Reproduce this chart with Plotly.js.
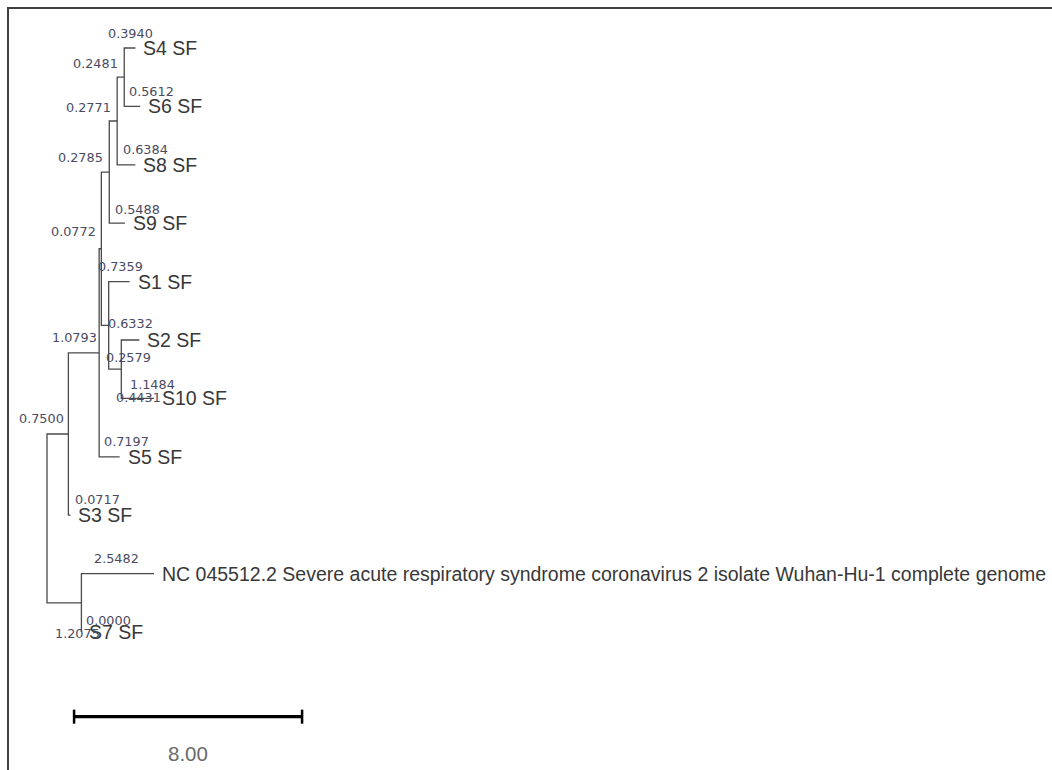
<!DOCTYPE html>
<html>
<head>
<meta charset="utf-8">
<script src="https://cdn.plot.ly/plotly-3.0.1.min.js"></script>
<style>
  html, body { margin: 0; padding: 0; background: #ffffff; }
  #chart { width: 1052px; height: 770px; }
</style>
</head>
<body>
<div id="chart"></div>
<script>
// ---------------- DATA ----------------
// Tree topology: node ids, their parents and branch lengths
const nodeIds = ["root","E","D","C","A","A1","A2","S4","S6","S8","S9","B","S1","B2","S2","S10","S5","S3","F","NC","S7"];
const parentIds = [null,"root","E","D","C","A","A1","A2","A2","A1","A","C","B","B","B2","B2","D","E","root","F","F"];
const branchLengths = [0,0.7500,1.0793,0.0772,0.2785,0.2771,0.2481,0.3940,0.5612,0.6384,0.5488,0.2579,0.7359,0.4431,0.6332,1.1484,0.7197,0.0717,1.2075,2.5482,0.0000];

// Leaves in drawing order (top to bottom) and their labels
const tipOrder = ["S4","S6","S8","S9","S1","S2","S10","S5","S3","NC","S7"];
const tipNames = ["S4 SF","S6 SF","S8 SF","S9 SF","S1 SF","S2 SF","S10 SF","S5 SF","S3 SF",
  "NC 045512.2 Severe acute respiratory syndrome coronavirus 2 isolate Wuhan-Hu-1 complete genome","S7 SF"];

// Scale bar
const scaleLength = 8.00;
const scaleLabel = "8.00";

// ---------------- STYLE / PLACEMENT ----------------
const W = 1052, H = 770;
const PX_PER_UNIT = 28.5;     // horizontal scale
const ROOT_PX = 47;           // root position (px)
const TIP_SPACING = 58.4;     // px between leaves
const FIRST_TIP_PX = 48;
const SCALE_START = 0.95;     // data units
const SCALE_Y = 11.45;        // leaf-index units

// label offsets (px) for branch length labels: [dx from branch start, dy from branch]
const labelOffsets = {
  E:[-30,-15], D:[-18,-15], C:[-50,-17], A:[-45,-15], A1:[-45,-14], A2:[-46,-14],
  S4:[-18,-15], S6:[3,-15], S8:[4,-15], S9:[4,-14], B:[3,32], S1:[-13,-15],
  B2:[5,28], S2:[-15,-17], S10:[7,-14], S5:[3,-15], S3:[5,-16], F:[6,31],
  NC:[11,-15], S7:[3,-12]
};

// ---------------- LAYOUT COMPUTATION ----------------
const nodes = {};
nodeIds.forEach((id, i) => { nodes[id] = {id, parent: parentIds[i], len: branchLengths[i], children: []}; });
nodeIds.forEach(id => { const p = nodes[id].parent; if (p) nodes[p].children.push(id); });

function setX(id, x) {
  const n = nodes[id]; n.x = x;
  n.children.forEach(c => setX(c, x + nodes[c].len));
}
setX("root", 0);
function setY(id) {
  const n = nodes[id];
  if (n.children.length === 0) { n.y = tipOrder.indexOf(id); return n.y; }
  const ys = n.children.map(setY);
  n.y = (ys[0] + ys[ys.length - 1]) / 2;
  return n.y;
}
setY("root");

// tree lines
const lx = [], ly = [];
nodeIds.forEach(id => {
  const n = nodes[id];
  if (n.children.length === 0) return;
  const a = nodes[n.children[0]], b = nodes[n.children[n.children.length - 1]];
  lx.push(a.x, n.x, n.x, b.x, null);
  ly.push(a.y, a.y, b.y, b.y, null);
});

const traces = [
  { x: lx, y: ly, mode: "lines", type: "scatter", hoverinfo: "skip",
    line: { color: "#4a4a4a", width: 1.3 } },
  // scale bar
  { x: [SCALE_START, SCALE_START + scaleLength], y: [SCALE_Y, SCALE_Y], mode: "lines", type: "scatter",
    hoverinfo: "skip", line: { color: "#000000", width: 3.2 } },
  { x: [SCALE_START, SCALE_START, null, SCALE_START + scaleLength, SCALE_START + scaleLength],
    y: [SCALE_Y - 0.12, SCALE_Y + 0.12, null, SCALE_Y - 0.12, SCALE_Y + 0.12],
    mode: "lines", type: "scatter", hoverinfo: "skip", line: { color: "#000000", width: 2.5 } }
];

const annotations = [];
tipOrder.forEach((id, i) => {
  const n = nodes[id];
  annotations.push({ x: n.x, y: n.y, xref: "x", yref: "y", text: tipNames[i], showarrow: false,
    xanchor: "left", yanchor: "middle", xshift: 6,
    font: { family: "Liberation Sans, Arial, sans-serif", size: 19.5, color: "#383838" } });
});
nodeIds.forEach((id, i) => {
  if (!parentIds[i]) return;
  const n = nodes[id], p = nodes[parentIds[i]];
  const off = labelOffsets[id];
  annotations.push({ x: p.x, y: n.y, xref: "x", yref: "y", text: branchLengths[i].toFixed(4), showarrow: false,
    xanchor: "left", yanchor: "middle", xshift: off[0], yshift: -off[1],
    font: { family: "DejaVu Sans, Verdana, sans-serif", size: 12.8, color: "#4a4a62" } });
});
annotations.push({ x: SCALE_START + scaleLength / 2, y: SCALE_Y, xref: "x", yref: "y", text: scaleLabel,
  showarrow: false, xanchor: "center", yanchor: "middle", yshift: -37,
  font: { family: "Liberation Sans, Arial, sans-serif", size: 20.5, color: "#6a6a6a" } });

const layout = {
  width: W, height: H,
  margin: { l: 0, r: 0, t: 0, b: 0, pad: 0 },
  paper_bgcolor: "#ffffff", plot_bgcolor: "#ffffff",
  showlegend: false,
  xaxis: { range: [-ROOT_PX / PX_PER_UNIT, (W - ROOT_PX) / PX_PER_UNIT], visible: false, fixedrange: true },
  yaxis: { range: [(H - FIRST_TIP_PX) / TIP_SPACING, -FIRST_TIP_PX / TIP_SPACING], visible: false, fixedrange: true },
  annotations: annotations,
  shapes: [
    { type: "line", xref: "paper", yref: "paper", x0: 7 / W, x1: 1, y0: 1 - 8 / H, y1: 1 - 8 / H,
      line: { color: "#404040", width: 2 } },
    { type: "line", xref: "paper", yref: "paper", x0: 8 / W, x1: 8 / W, y0: 0, y1: 1 - 7 / H,
      line: { color: "#404040", width: 2 } }
  ]
};

Plotly.newPlot("chart", traces, layout, { staticPlot: true, displayModeBar: false });
</script>
</body>
</html>
